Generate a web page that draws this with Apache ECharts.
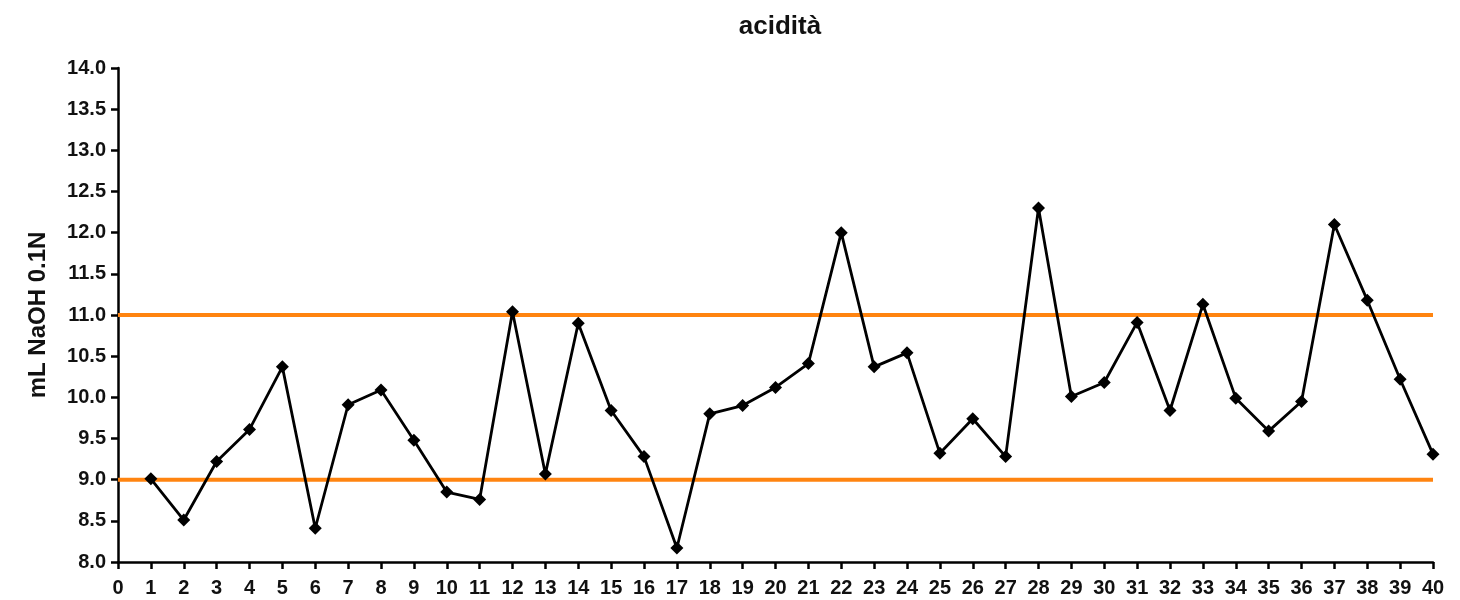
<!DOCTYPE html>
<html>
<head>
<meta charset="utf-8">
<script src="https://cdn.jsdelivr.net/npm/echarts@6/dist/echarts.min.js"></script>
<style>html,body{margin:0;padding:0;background:#fff;}#c{width:1460px;height:600px;}</style>
</head>
<body>
<div id="c"></div>
<script>
var titleText = 'acidità';
var yAxisName = 'mL NaOH 0.1N';
var samples = [1,2,3,4,5,6,7,8,9,10,11,12,13,14,15,16,17,18,19,20,21,22,23,24,25,26,27,28,29,30,31,32,33,34,35,36,37,38,39,40];
var acidity = [9.01,8.51,9.22,9.61,10.37,8.41,9.91,10.09,9.48,8.85,8.76,11.04,9.07,10.90,9.84,9.28,8.17,9.80,9.90,10.12,10.41,12.00,10.37,10.54,9.32,9.74,9.28,12.30,10.01,10.18,10.91,9.84,11.13,9.99,9.59,9.95,12.10,11.18,10.22,9.31];
var upperLimit = 11.0;
var lowerLimit = 9.0;
var xRange = [0, 40];
var yRange = [8, 14];

var font = '"Liberation Sans", Arial, sans-serif';
var chart = echarts.init(document.getElementById('c'), null, {renderer: 'canvas'});
chart.setOption({
  animation: false,
  backgroundColor: '#fff',
  title: {
    text: titleText, left: 775, top: 9, textAlign: 'center',
    textStyle: {fontFamily: font, fontWeight: 'bold', fontSize: 26, color: '#111'}
  },
  grid: {left: 118, right: 27, top: 68, bottom: 38, containLabel: false},
  xAxis: {
    type: 'value', min: xRange[0], max: xRange[1], interval: 1,
    axisLine: {lineStyle: {color: '#000', width: 2.5}},
    axisTick: {length: 7, lineStyle: {color: '#000', width: 2.5}},
    axisLabel: {fontFamily: font, fontWeight: 'bold', fontSize: 20, color: '#111', margin: 16},
    splitLine: {show: false}
  },
  yAxis: {
    type: 'value', min: yRange[0], max: yRange[1], interval: 0.5,
    name: yAxisName, nameLocation: 'middle', nameGap: 68, nameRotate: 90,
    nameTextStyle: {fontFamily: font, fontWeight: 'bold', fontSize: 24, color: '#111'},
    axisLine: {show: true, lineStyle: {color: '#000', width: 2.5}},
    axisTick: {show: true, length: 7, lineStyle: {color: '#000', width: 2.5}},
    axisLabel: {fontFamily: font, fontWeight: 'bold', fontSize: 20, color: '#111', margin: 12,
      formatter: function (v) { return v.toFixed(1); }},
    splitLine: {show: false}
  },
  series: [
    {
      type: 'line', name: 'upper',
      data: [[xRange[0], upperLimit], [xRange[1], upperLimit]],
      symbol: 'none', lineStyle: {color: '#FF8410', width: 4}, z: 1, clip: false
    },
    {
      type: 'line', name: 'lower',
      data: [[xRange[0], lowerLimit], [xRange[1], lowerLimit]],
      symbol: 'none', lineStyle: {color: '#FF8410', width: 4}, z: 1, clip: false
    },
    {
      type: 'line', name: 'acidità',
      data: samples.map(function (s, i) { return [s, acidity[i]]; }),
      symbol: 'diamond', symbolSize: 13,
      itemStyle: {color: '#000'},
      lineStyle: {color: '#000', width: 2.8}, z: 3
    }
  ]
});
</script>
</body>
</html>
